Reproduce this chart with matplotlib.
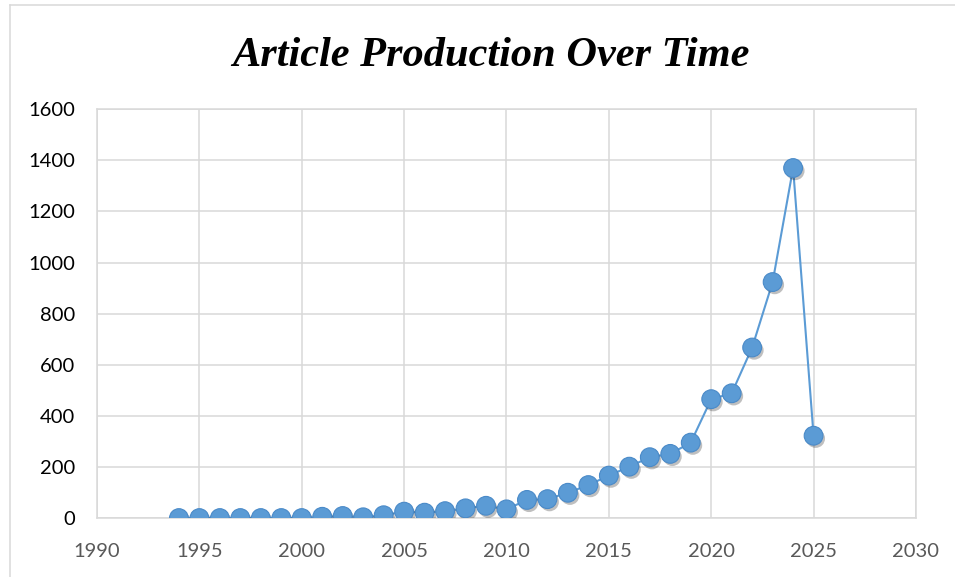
import matplotlib
matplotlib.use('Agg')
import matplotlib.pyplot as plt
import matplotlib.patheffects as pe
from matplotlib.lines import Line2D

# data
years = [1994, 1995, 1996, 1997, 1998, 1999, 2000, 2001, 2002, 2003,
         2004, 2005, 2006, 2007, 2008, 2009, 2010, 2011, 2012, 2013,
         2014, 2015, 2016, 2017, 2018, 2019, 2020, 2021, 2022, 2023,
         2024, 2025]
articles = [1, 1, 1, 1, 1, 1, 1, 6, 9, 4,
            12, 26, 22, 28, 39, 49, 35, 72, 75, 100,
            130, 167, 202, 239, 252, 296, 466, 489, 668, 924,
            1370, 323]

x_ticks = [1990, 1995, 2000, 2005, 2010, 2015, 2020, 2025, 2030]
y_ticks = [0, 200, 400, 600, 800, 1000, 1200, 1400, 1600]

blue = '#5B9BD5'
grid_col = '#D9D9D9'

fig = plt.figure(figsize=(9.55, 5.77), dpi=100)
ax = fig.add_axes([0.1016, 0.1017, 0.8575, 0.709])

# line first, then markers with a soft shadow on top
ax.plot(years, articles, color=blue, lw=1.5, zorder=3)
ax.plot(years, articles, ls='none', marker='o', ms=13.5,
        markerfacecolor=blue, markeredgecolor='#4A8AC8', markeredgewidth=0.8,
        path_effects=[pe.SimplePatchShadow(offset=(1.5, -2), shadow_rgbFace='#000000', alpha=0.25),
                      pe.Normal()],
        zorder=4)

ax.set_xlim(1990, 2030)
ax.set_ylim(0, 1600)
ax.set_xticks(x_ticks)
ax.set_yticks(y_ticks)
ax.grid(True, color=grid_col, lw=1.1)
for s in ax.spines.values():
    s.set_color(grid_col)
    s.set_linewidth(1.1)
ax.tick_params(length=0)
ax.tick_params(axis='y', pad=16, labelsize=14.5, labelcolor='black')
ax.tick_params(axis='x', pad=17.5, labelsize=14.5, labelcolor='#595959')
for lab in ax.get_xticklabels() + ax.get_yticklabels():
    lab.set_family('Lato')

fig.text(0.5135, 0.903, 'Article Production Over Time', ha='center', va='center',
         family='Liberation Serif', weight='bold', style='italic', fontsize=30.5)

# chart frame (only left and top edges fall inside the picture)
fig.add_artist(Line2D([10 / 955, 10 / 955], [0, 1 - 5 / 577], transform=fig.transFigure,
                      color=grid_col, lw=1.1))
fig.add_artist(Line2D([10 / 955, 1], [1 - 5 / 577, 1 - 5 / 577], transform=fig.transFigure,
                      color=grid_col, lw=1.1))

fig.savefig('out.png', dpi=100)
